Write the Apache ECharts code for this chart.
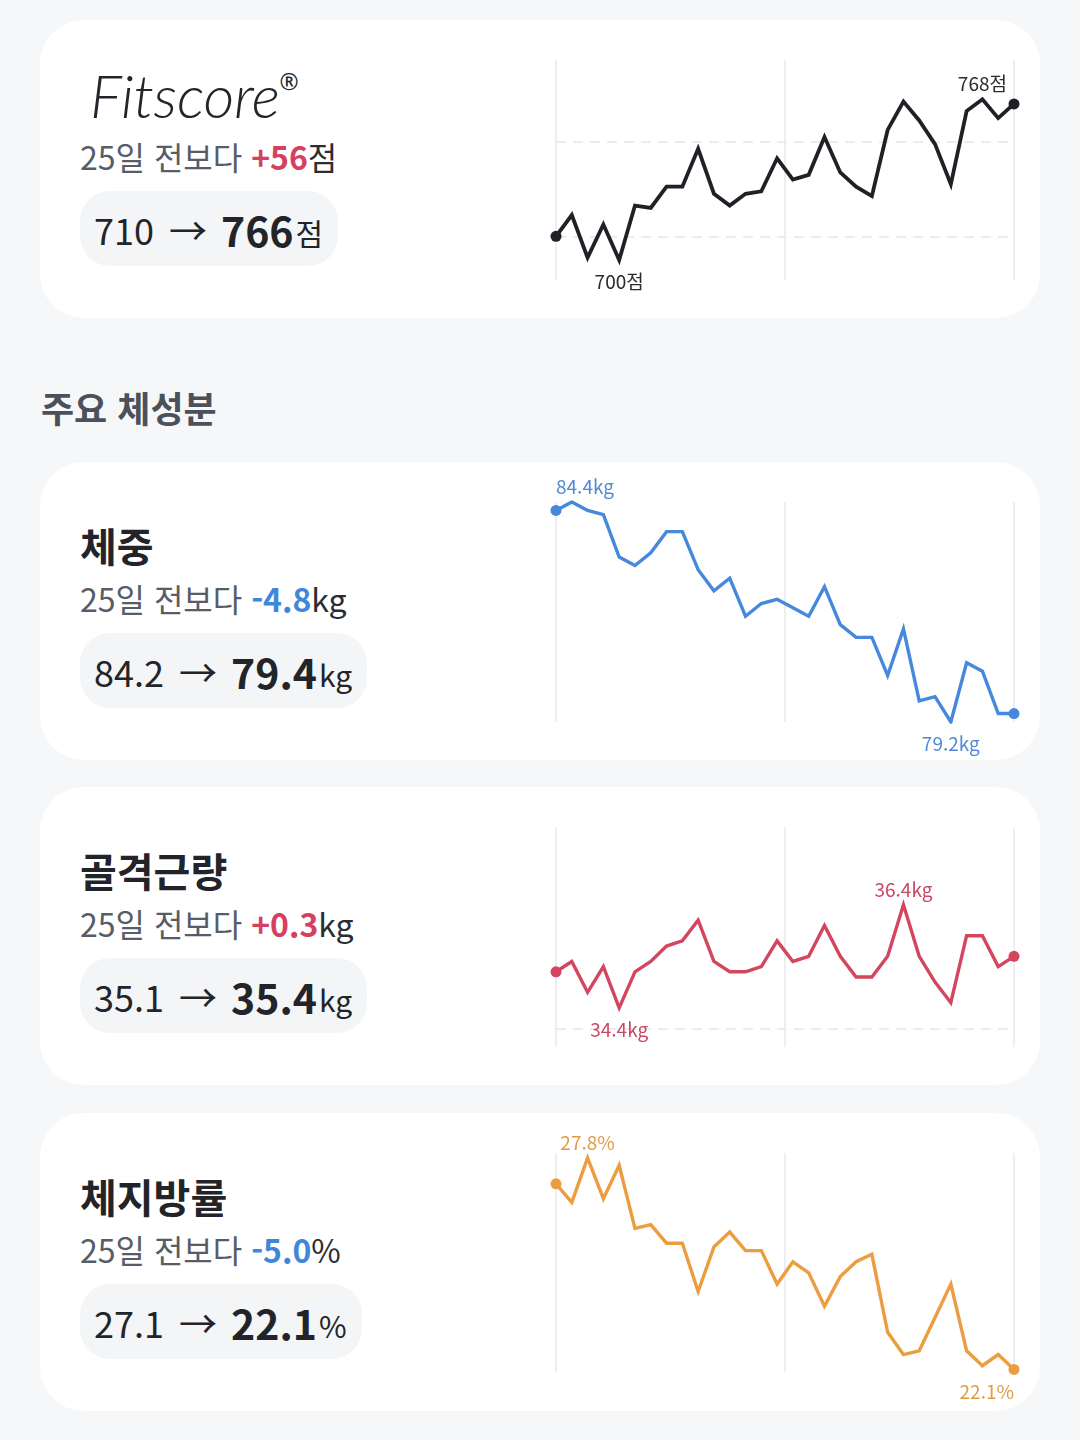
<!DOCTYPE html>
<html lang="ko">
<head>
<meta charset="utf-8">
<title>Fitscore · 주요 체성분</title>
<script src="https://cdn.jsdelivr.net/npm/echarts@6/dist/echarts.min.js"></script>
<style>
  html, body { margin: 0; padding: 0; }
  body {
    width: 1080px; height: 1440px; position: relative; overflow: hidden;
    background: #f6f7f9;
    font-family: "Noto Sans CJK KR", "Noto Sans", sans-serif;
    color: #25272c;
  }
  .card {
    position: absolute; left: 40px; width: 1000px; height: 298px;
    background: #fff; border-radius: 44px;
  }
  .t { position: absolute; left: 40px; white-space: nowrap; line-height: 1; }
  .logo {
    left: 50px; top: 45px; font-family: Lato, "Open Sans", sans-serif;
    font-size: 60px; font-weight: 300; font-style: italic; color: #23252a;
    letter-spacing: -0.3px;
  }
  .logo span {
    position: relative; top: -28px; margin-left: 0;
    font-family: "Noto Sans", sans-serif; font-style: normal; font-weight: 400; font-size: 23px;
  }
  .title { top: 63px; font-size: 40px; font-weight: 700; color: #222429; }
  .sub { top: 120px; font-size: 32px; color: #575d68; }
  .sub b { font-weight: 700; }
  .sub .unit { color: #2b2d31; }
  .up { color: #d4405e; }
  .down { color: #3f87d9; }
  .pill {
    position: absolute; left: 40px; top: 171px; height: 75px; box-sizing: border-box;
    padding: 0 15px 0 14px; background: #f4f5f7; border-radius: 30px;
    display: flex; align-items: center; white-space: nowrap; color: #222429;
  }
  .pill .from { font-size: 36px; }
  .pill .arr { font-size: 38px; margin: 0 14px 0 15px; }
  .pill .to { font-size: 41px; font-weight: 700; }
  .pill .unit { font-size: 30px; margin-left: 2px; position: relative; top: 3px; }
  .section {
    position: absolute; left: 41px; top: 389px; font-size: 36px; font-weight: 700;
    color: #4b515b; line-height: 1;
  }
  #chart { position: absolute; left: 0; top: 0; width: 1080px; height: 1440px; z-index: 2; }
</style>
</head>
<body>

<div class="card" style="top:20px">
  <div class="t logo">Fitscore<span>®</span></div>
  <div class="t sub" id="sub-score"></div>
  <div class="pill" id="pill-score"></div>
</div>

<div class="section">주요 체성분</div>

<div class="card" style="top:462px">
  <div class="t title">체중</div>
  <div class="t sub" id="sub-weight"></div>
  <div class="pill" id="pill-weight"></div>
</div>

<div class="card" style="top:787px">
  <div class="t title">골격근량</div>
  <div class="t sub" id="sub-muscle"></div>
  <div class="pill" id="pill-muscle"></div>
</div>

<div class="card" style="top:1113px">
  <div class="t title">체지방률</div>
  <div class="t sub" id="sub-fat"></div>
  <div class="pill" id="pill-fat"></div>
</div>

<div id="chart"></div>

<script>
// 30 daily readings per metric
const fitscore = [710, 719, 701, 715, 700, 723, 722, 731, 731, 747, 728, 723, 728, 729, 743,
                  734, 736, 752, 737, 731, 727, 755, 767, 759, 749, 732, 763, 768, 760, 766];
const weight = [84.2, 84.4, 84.2, 84.1, 83.1, 82.9, 83.2, 83.7, 83.7, 82.8, 82.3, 82.6, 81.7, 82.0, 82.1,
                81.9, 81.7, 82.4, 81.5, 81.2, 81.2, 80.3, 81.4, 79.7, 79.8, 79.2, 80.6, 80.4, 79.4, 79.4];
const muscle = [35.1, 35.3, 34.7, 35.2, 34.4, 35.1, 35.3, 35.6, 35.7, 36.1, 35.3, 35.1, 35.1, 35.2, 35.7,
                35.3, 35.4, 36.0, 35.4, 35.0, 35.0, 35.4, 36.4, 35.4, 34.9, 34.5, 35.8, 35.8, 35.2, 35.4];
const fat = [27.1, 26.6, 27.8, 26.7, 27.6, 25.9, 26.0, 25.5, 25.5, 24.2, 25.4, 25.8, 25.3, 25.3, 24.4,
             25.0, 24.7, 23.8, 24.6, 25.0, 25.2, 23.1, 22.5, 22.6, 23.5, 24.4, 22.6, 22.2, 22.5, 22.1];

// dashed guide values
const scoreGuides = [710, 750];
const muscleGuides = [34.0];

const periodText = '25일 전보다';

const metrics = [
    { key: 'score',  values: fitscore, unit: '점', digits: 0,
      color: '#1f2126', labelColor: '#2a2b2f', guides: scoreGuides,
      top: 60, height: 220, min: 691.5, max: 784.6 },
    { key: 'weight', values: weight, unit: 'kg', digits: 1,
      color: '#4689dc', labelColor: '#4f8ad3', guides: [],
      top: 502, height: 220, min: 79.2, max: 84.4 },
    { key: 'muscle', values: muscle, unit: 'kg', digits: 1,
      color: '#d4455f', labelColor: '#c94862', guides: muscleGuides,
      top: 827, height: 220, min: 33.64, max: 37.91 },
    { key: 'fat',    values: fat, unit: '%', digits: 1,
      color: '#eb9d3f', labelColor: '#e29b44', guides: [],
      top: 1153, height: 219, min: 22.03, max: 27.93 }
];

// left side texts
metrics.forEach(function (m) {
    const first = m.values[0];
    const last = m.values[m.values.length - 1];
    const diff = last - first;
    const sign = diff >= 0 ? '+' : '-';
    const cls = diff >= 0 ? 'up' : 'down';
    document.getElementById('sub-' + m.key).innerHTML =
        periodText + ' <b class="' + cls + '">' + sign + Math.abs(diff).toFixed(m.digits) + '</b>' +
        '<span class="unit">' + m.unit + '</span>';
    document.getElementById('pill-' + m.key).innerHTML =
        '<span class="from">' + first.toFixed(m.digits) + '</span>' +
        '<span class="arr">→</span>' +
        '<span class="to">' + last.toFixed(m.digits) + '</span>' +
        '<span class="unit">' + m.unit + '</span>';
});

const gridLeft = 556;
const gridWidth = 458;

const grids = [], xAxes = [], yAxes = [], series = [];

metrics.forEach(function (m, k) {
    const n = m.values.length;
    const step = gridWidth / (n - 1);
    const maxI = m.values.indexOf(Math.max.apply(null, m.values));
    const minI = m.values.indexOf(Math.min.apply(null, m.values));

    grids.push({ left: gridLeft, top: m.top, width: gridWidth, height: m.height });
    xAxes.push({
        gridIndex: k, type: 'value', min: 0, max: n - 1, interval: (n - 1) / 2,
        axisLine: { show: false }, axisTick: { show: false }, axisLabel: { show: false },
        splitLine: { show: true, lineStyle: { color: '#eceef2', width: 2 } }
    });
    yAxes.push({
        gridIndex: k, type: 'value', min: m.min, max: m.max,
        axisLine: { show: false }, axisTick: { show: false }, axisLabel: { show: false },
        splitLine: { show: false }
    });

    const data = m.values.map(function (v, i) {
        const item = { value: [i, v] };
        if (i === maxI || i === minI) {
            const isTop = i === maxI;
            const isEnd = i === 0 || i === n - 1;
            const label = {
                show: true,
                position: isTop ? 'top' : 'bottom',
                distance: (isTop ? 6 : 12) - (isEnd ? 5 : 0),
                formatter: v.toFixed(m.digits) + m.unit,
                color: m.labelColor,
                fontSize: 19,
                fontFamily: '"Noto Sans CJK KR", sans-serif'
            };
            if (i <= 1) { label.align = 'left'; label.offset = [-i * step, 0]; }
            if (i >= n - 2) { label.align = 'right'; label.offset = [(n - 1 - i) * step, 0]; }
            item.label = label;
        }
        return item;
    });

    // dashed guides sit in their own series, under the line
    if (m.guides.length) {
        series.push({
            type: 'line',
            xAxisIndex: k, yAxisIndex: k,
            data: [],
            z: 1,
            silent: true,
            markLine: {
                z: 1,
                silent: true, symbol: 'none', label: { show: false },
                lineStyle: { type: [10, 7], color: '#eaecf0', width: 2 },
                data: m.guides.map(function (g) { return { yAxis: g }; })
            }
        });
    }

    series.push({
        type: 'line',
        xAxisIndex: k, yAxisIndex: k,
        data: data,
        z: 3,
        symbol: 'circle',
        symbolSize: function (val, params) {
            return (params.dataIndex === 0 || params.dataIndex === n - 1) ? 11 : 0;
        },
        showSymbol: true,
        lineStyle: { color: m.color, width: k === 0 ? 3.8 : 3.4, join: 'miter' },
        itemStyle: { color: m.color, borderWidth: 0 },
        emphasis: { disabled: true },
        silent: true
    });
});

const myChart = echarts.init(document.getElementById('chart'), null, { renderer: 'canvas' });
myChart.setOption({
    backgroundColor: 'transparent',
    animation: false,
    grid: grids,
    xAxis: xAxes,
    yAxis: yAxes,
    series: series
});
</script>
</body>
</html>
